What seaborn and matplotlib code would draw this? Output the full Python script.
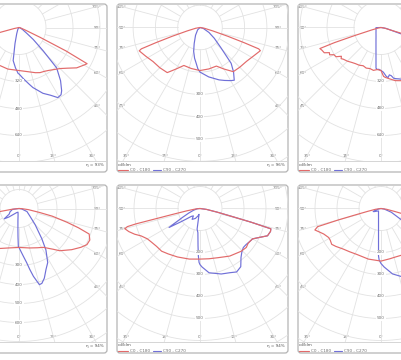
import numpy as np
import pandas as pd
import matplotlib
matplotlib.use("Agg")
import matplotlib.pyplot as plt
import seaborn as sns
from matplotlib.patches import Rectangle, FancyBboxPatch

sns.set_theme(style="white")
plt.rcParams['font.family'] = ['DejaVu Sans']

# ---------------- data (gamma in degrees, intensity in cd/klm) ----------------
P1_C0_G = [0, 10, 20, 25, 30, 35, 40, 45, 50, 55, 60, 62, 63.5, 65, 68, 75, 90]
P1_C0_I = [255, 265, 285, 295, 300, 310, 325, 344, 375, 417, 445, 457, 310, 140, 40, 10, 0]
P1_C180_G = [0, 15, 26, 40, 55, 65, 72, 74, 75.5, 78, 90]
P1_C180_I = [255, 255, 252, 270, 330, 420, 480, 300, 116, 30, 0]
P1_C90_G = [0, 5, 10, 13, 20, 25, 29, 32, 34, 38, 43, 46, 50, 53, 60, 75, 90]
P1_C90_I = [275, 305, 340, 365, 415, 443, 475, 470, 452, 400, 327, 200, 110, 59, 25, 5, 0]
P1_C270_G = [0, 1, 5, 10, 14, 20, 30, 45, 90]
P1_C270_I = [275, 273, 240, 199, 98, 40, 15, 5, 0]

P2_C0_G = [0, 12, 23, 30, 37, 45, 54, 62, 69, 70, 71, 72.5, 75, 80, 90]
P2_C0_I = [193, 190, 188, 215, 248, 252, 258, 272, 290, 280, 210, 130, 60, 20, 0]
P2_C180_G = [0, 12, 23, 30, 36, 45, 54, 62, 69, 70, 71, 72.5, 75, 80, 90]
P2_C180_I = [193, 188, 185, 215, 250, 255, 260, 275, 292, 280, 210, 130, 60, 20, 0]
P2_C90_G = [0, 10, 20, 25, 30, 33, 37, 41, 46, 53, 61, 75, 90]
P2_C90_I = [200, 225, 250, 262, 275, 282, 250, 213, 130, 80, 46, 15, 0]
P2_C270_G = [0, 3, 6, 10, 15, 20, 30, 45, 90]
P2_C270_I = [200, 185, 162, 140, 110, 76, 40, 15, 0]

P3_C0_G = [0, 3, 5, 10, 15, 22, 30, 45, 60, 70, 72, 73, 74, 80, 90]
P3_C0_I = [255, 290, 297, 310, 326, 340, 360, 400, 460, 500, 480, 350, 130, 20, 0]
P3_C180_G = [0, 5, 10, 15, 20, 25, 30, 35, 40, 45, 50, 52, 54, 57, 60, 62, 64, 66, 69, 71, 72, 73, 75, 80, 90]
P3_C180_I = [255, 250, 258, 252, 256, 250, 258, 262, 270, 282, 292, 300, 290, 318, 322, 345, 340, 368, 375, 383, 290, 160, 60, 15, 0]
P3_C90_G = [0, 3, 6, 8, 10, 12, 14, 16, 20, 25, 35, 45, 55, 65, 72, 80, 90]
P3_C90_I = [255, 265, 290, 300, 285, 292, 310, 315, 325, 340, 380, 420, 400, 300, 150, 30, 0]
P3_C270_G = [0, 3, 5, 7, 10, 15, 20, 30, 45, 60, 75, 88, 90]
P3_C270_I = [255, 248, 250, 243, 171, 115, 87, 59, 42, 34, 31, 30, 0]

P4_C0_G = [0, 15, 25, 32, 40, 44, 52, 58, 62, 66, 70, 72, 74, 77, 79, 83, 87, 90]
P4_C0_I = [205, 215, 228, 241, 280, 309, 352, 385, 405, 408, 393, 330, 263, 180, 112, 50, 15, 0]
P4_C180_G = [0, 15, 25, 40, 55, 65, 72, 77, 79, 81, 84, 90]
P4_C180_I = [205, 215, 232, 262, 330, 400, 450, 440, 250, 100, 35, 0]
P4_C90_G = [0, 3, 5, 8, 10, 12, 15, 17, 20, 24, 28, 33, 37, 45, 55, 69, 80, 90]
P4_C90_I = [205, 230, 250, 287, 325, 365, 415, 412, 390, 350, 322, 260, 200, 120, 70, 45, 15, 0]
P4_C270_G = [0, 1, 2, 3, 5, 8, 15, 30, 50, 55, 60, 70, 82, 90]
P4_C270_I = [205, 200, 150, 110, 65, 35, 20, 25, 70, 95, 60, 50, 35, 0]

P5_C0_G = [0, 10, 20, 32, 44, 50, 54, 57, 60, 64, 68, 72, 74, 75, 76, 78, 82, 90]
P5_C0_I = [230, 232, 238, 255, 270, 275, 270, 272, 276, 300, 331, 337, 335, 240, 150, 80, 30, 0]
P5_C180_G = [0, 12, 25, 35, 42, 49, 55, 60, 65, 68.5, 72, 75, 76, 76.5, 77, 78, 80, 84, 90]
P5_C180_I = [230, 235, 243, 252, 261, 262, 268, 276, 295, 319, 340, 354, 340, 300, 200, 120, 60, 20, 0]
P5_C90_G = [0, 2, 8, 18, 25, 30, 35, 40, 44, 48, 52, 57, 60, 64, 68, 72, 74, 75, 76, 78, 82, 90]
P5_C90_I = [255, 266, 295, 313, 322, 333, 323, 290, 274, 265, 266, 272, 276, 300, 331, 337, 335, 240, 150, 80, 30, 0]
P5_C270_G = [0, 1, 2, 3, 5, 8, 9.5, 15, 25, 36, 42, 48, 52, 55, 58.5, 60, 63, 68, 75, 85, 90]
P5_C270_I = [255, 245, 215, 171, 110, 95, 27, 35, 50, 61, 45, 54, 75, 104, 165, 130, 90, 55, 30, 12, 0]

P6_C0_G = [0, 10, 17, 24, 35, 43, 54, 62, 68, 72, 74, 75, 76, 78, 82, 90]
P6_C0_I = [239, 232, 230, 232, 240, 252, 277, 280, 300, 316, 300, 200, 120, 60, 25, 0]
P6_C180_G = [0, 14, 28, 36, 43, 50, 54, 58, 61, 66, 69, 72, 74, 75, 76, 78, 82, 90]
P6_C180_I = [239, 237, 236, 243, 252, 268, 277, 272, 272, 285, 299, 316, 300, 200, 120, 60, 25, 0]
P6_C90_G = [0, 3, 10, 17, 25, 32, 38, 45, 52, 60, 70, 80, 90]
P6_C90_I = [250, 266, 302, 324, 340, 345, 320, 270, 200, 120, 50, 15, 0]
P6_C270_G = [0, 2, 3, 5, 10, 20, 45, 60, 66, 69, 72, 80, 90]
P6_C270_I = [250, 235, 216, 129, 65, 33, 16, 25, 35, 38, 25, 10, 0]

RING_STEP = [160, 100, 160, 100, 100, 100]
PX_PER_STEP = [27, 22.3, 27, 19, 22, 22]
RING_LABELS = [[320, 480, 640], [300, 400, 500], [320, 480, 640],
               [300, 400, 500, 600], [200, 300, 400, 500], [200, 300, 400, 500]]
ETA = ["η = 93%", "η = 96%", "η = 95%", "η = 94%", "η = 94%", "η = 94%"]
SIDE_ANGLES = [105, 90, 75, 60, 45]
BOTTOM_ANGLES = [30, 15, 0, 15, 30]
LEGEND = ["C0 - C180", "C90 - C270"]
UNIT = "cd/klm"

CURVES = [
    (P1_C0_G, P1_C0_I, P1_C180_G, P1_C180_I, P1_C90_G, P1_C90_I, P1_C270_G, P1_C270_I),
    (P2_C0_G, P2_C0_I, P2_C180_G, P2_C180_I, P2_C90_G, P2_C90_I, P2_C270_G, P2_C270_I),
    (P3_C0_G, P3_C0_I, P3_C180_G, P3_C180_I, P3_C90_G, P3_C90_I, P3_C270_G, P3_C270_I),
    (P4_C0_G, P4_C0_I, P4_C180_G, P4_C180_I, P4_C90_G, P4_C90_I, P4_C270_G, P4_C270_I),
    (P5_C0_G, P5_C0_I, P5_C180_G, P5_C180_I, P5_C90_G, P5_C90_I, P5_C270_G, P5_C270_I),
    (P6_C0_G, P6_C0_I, P6_C180_G, P6_C180_I, P6_C90_G, P6_C90_I, P6_C270_G, P6_C270_I),
]

# ---------------- layout ----------------
W, H = 402, 360
PW, PH = 173, 170
COL_L = [-65, 116, 297]
ROW_T = [3, 184]
CX, CY = 84, 24.5          # polar centre inside a panel
SEP = 158                  # legend separator
R = 178                    # polar axes radius in px

RED = '#e26a6a'
BLUE = '#7070d8'
GRID = '#e2e2e2'
TXT = '#707070'
FS = 3.0
CHAR_W = 2.3               # rough px width of one character at FS

fig = plt.figure(figsize=(W / 100, H / 100), dpi=100)
fig.patch.set_facecolor('white')


def half_planes(g_right, i_right, g_left, i_left):
    th = np.concatenate([-np.asarray(g_left, float)[::-1], np.asarray(g_right, float)])
    rr = np.concatenate([np.asarray(i_left, float)[::-1], np.asarray(i_right, float)])
    return pd.DataFrame({'theta': np.deg2rad(th), 'r': rr})


def visible(x_abs, s, ha):
    w = len(s) * CHAR_W
    if ha == 'center':
        x0, x1 = x_abs - w / 2, x_abs + w / 2
    elif ha == 'left':
        x0, x1 = x_abs, x_abs + w
    else:
        x0, x1 = x_abs - w, x_abs
    return x0 >= -1 and x1 <= W + 1


def ftext(fx, L, x, y, s, ha='center', color=TXT):
    if visible(L + x, s, ha):
        fx.text(x, y, s, ha=ha, va='center', fontsize=FS, color=color)


for idx in range(6):
    row, col = divmod(idx, 3)
    L, T = COL_L[col], ROW_T[row]
    step = RING_STEP[idx]
    scale = PX_PER_STEP[idx] / step   # px per cd

    # frame
    fx = fig.add_axes([L / W, 1 - (T + PH) / H, PW / W, PH / H])
    fx.set_xlim(0, PW)
    fx.set_ylim(PH, 0)
    fx.axis('off')
    fx.add_patch(FancyBboxPatch((1, 1), PW - 2, PH - 2,
                                boxstyle='round,pad=0,rounding_size=3',
                                fc='white', ec='#b4b4b4', lw=0.9))
    fx.plot([1.5, PW - 1.5], [SEP, SEP], color='#cfcfcf', lw=0.6)

    # polar axes
    cx, cy = L + CX, T + CY
    pax = fig.add_axes([(cx - R) / W, 1 - (cy + R) / H, 2 * R / W, 2 * R / H],
                       projection='polar')
    pax.set_theta_zero_location('S')
    pax.set_theta_direction(1)
    rmax = R / scale
    pax.set_ylim(0, rmax)
    pax.grid(False)
    pax.spines['polar'].set_visible(False)
    pax.patch.set_visible(False)

    clip = Rectangle(((L + 1.5) / W, 1 - (T + SEP) / H), (PW - 3) / W, (SEP - 1.5) / H,
                     transform=fig.transFigure)

    tt = np.linspace(0, 2 * np.pi, 721)
    k = 1
    while k * step < rmax:
        pax.plot(tt, np.full_like(tt, k * step), color=GRID, lw=0.6)
        k += 1
    for a in range(0, 360, 15):
        pax.plot([np.deg2rad(a)] * 2, [step, rmax], color=GRID, lw=0.6)

    c0g, c0i, c180g, c180i, c90g, c90i, c270g, c270i = CURVES[idx]
    df_b = half_planes(c90g, c90i, c270g, c270i)
    df_r = half_planes(c0g, c0i, c180g, c180i)
    sns.lineplot(data=df_b, x='theta', y='r', ax=pax, sort=False, estimator=None,
                 color=BLUE, lw=0.85)
    sns.lineplot(data=df_r, x='theta', y='r', ax=pax, sort=False, estimator=None,
                 color=RED, lw=0.85)
    pax.set_xlabel('')
    pax.set_ylabel('')
    pax.set_xticks([])
    pax.set_yticks([])

    for ln in pax.lines:
        ln.set_clip_path(clip)

    # ring labels
    for v in RING_LABELS[idx]:
        if 0 <= cx <= W:
            pax.text(0, v, str(v), ha='center', va='center', fontsize=FS, color=TXT,
                     bbox=dict(boxstyle='square,pad=0.15', fc='white', ec='none'))

    # angle labels (frame coordinates, px)
    for a in SIDE_ANGLES:
        dy = 78 / np.tan(np.deg2rad(a)) if a != 90 else 0.0
        ftext(fx, L, CX + 78, CY + dy, f"{a}°")
        ftext(fx, L, CX - 78, CY + dy, f"{a}°")
    for j, a in enumerate(BOTTOM_ANGLES):
        sgn = -1 if j < 2 else 1
        dx = sgn * 128 * np.tan(np.deg2rad(a))
        ftext(fx, L, CX + dx, CY + 128, f"{a}°")

    # legend
    ftext(fx, L, 2, SEP + 3.5, UNIT, ha='left', color='#555555')
    fx.plot([2.5, 12], [SEP + 8.5, SEP + 8.5], color=RED, lw=0.8)
    ftext(fx, L, 14, SEP + 8.5, LEGEND[0], ha='left')
    fx.plot([37, 45], [SEP + 8.5, SEP + 8.5], color=BLUE, lw=0.8)
    ftext(fx, L, 47, SEP + 8.5, LEGEND[1], ha='left')
    ftext(fx, L, PW - 4, SEP + 4, ETA[idx], ha='right', color='#555555')

fig.savefig('out.png', dpi=100, facecolor='white')
